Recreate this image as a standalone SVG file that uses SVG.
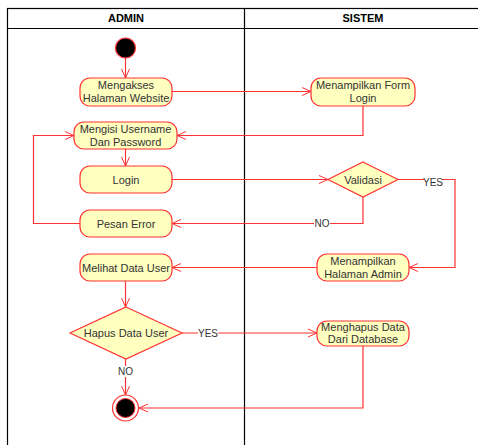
<svg xmlns="http://www.w3.org/2000/svg" width="478" height="445" viewBox="0 0 478 445">
<defs>
<marker id="arr" viewBox="0 0 10 10" refX="10" refY="5" markerWidth="10" markerHeight="10" markerUnits="userSpaceOnUse" orient="auto">
<path d="M1,1 L10,5 L1,9" fill="none" stroke="#ff3333" stroke-width="1"/>
</marker>
<style>
.lane{fill:none;stroke:#000;stroke-width:1.2}
.hdr{font-family:"Liberation Sans",Arial,sans-serif;font-size:11px;font-weight:bold;fill:#000;text-anchor:middle}
.act{fill:#ffffc0;stroke:#ff3333;stroke-width:1.2}
.t{font-family:"Liberation Sans",Arial,sans-serif;font-size:11px;fill:#333;text-anchor:middle}
.e{fill:none;stroke:#ff3333;stroke-width:1.2;marker-end:url(#arr)}
.lbl{font-family:"Liberation Sans",Arial,sans-serif;font-size:10px;fill:#333;text-anchor:middle}
.lb{fill:#fff}
</style>
</defs>
<rect width="478" height="445" fill="#fff"/>
<g id="lanes">
<rect class="lane" x="7.5" y="8.5" width="480" height="450"/>
<line class="lane" x1="7.5" y1="28.5" x2="478" y2="28.5"/>
<line class="lane" x1="244.5" y1="8.5" x2="244.5" y2="445"/>
<text class="hdr" x="126" y="22">ADMIN</text>
<text class="hdr" x="363" y="22">SISTEM</text>
</g>
<g id="connectors">
<path class="e" d="M125.5,58 V78"/>
<path class="e" d="M172,91.5 H311"/>
<path class="e" d="M363,106 V135.5 H177"/>
<path class="e" d="M125.5,149 V166"/>
<path class="e" d="M172,179.5 H328"/>
<path class="e" d="M398,179.5 H455 V267.5 H409"/>
<path class="e" d="M363,197 V223.5 H172"/>
<path class="e" d="M80,223.5 H33.5 V135.5 H74"/>
<path class="e" d="M317,267.5 H172"/>
<path class="e" d="M125.5,281 V307"/>
<path class="e" d="M182,333 H317"/>
<path class="e" d="M125.5,359 V395"/>
<path class="e" d="M363,346 V408 H139"/>
<rect class="lb" x="424" y="177" width="18" height="11"/>
<text class="lbl" x="433" y="186">YES</text>
<rect class="lb" x="314" y="218" width="16" height="11"/>
<text class="lbl" x="322" y="227">NO</text>
<rect class="lb" x="198" y="328" width="20" height="11"/>
<text class="lbl" x="208" y="337">YES</text>
<rect class="lb" x="117" y="366" width="17" height="11"/>
<text class="lbl" x="125.5" y="375">NO</text>
</g>
<g id="start"><circle cx="125.5" cy="48" r="10" fill="#000" stroke="#ff3333" stroke-width="1.2"/></g>
<g id="mengakses"><rect class="act" x="80" y="78" width="92" height="28" rx="10"/><text class="t" x="126" y="89">Mengakses</text><text class="t" x="126" y="102">Halaman Website</text></g>
<g id="formlogin"><rect class="act" x="311" y="78" width="104" height="28" rx="10"/><text class="t" x="363" y="89">Menampilkan Form</text><text class="t" x="363" y="102">Login</text></g>
<g id="mengisi"><rect class="act" x="74" y="122" width="103" height="27" rx="10"/><text class="t" x="125.5" y="133">Mengisi Username</text><text class="t" x="125.5" y="146">Dan Password</text></g>
<g id="login"><rect class="act" x="80" y="166" width="92" height="27" rx="10"/><text class="t" x="126" y="183.5">Login</text></g>
<g id="validasi"><path class="act" d="M363,162 L398,179.5 L363,197 L328,179.5 Z"/><text class="t" x="363" y="183.5">Validasi</text></g>
<g id="pesanerror"><rect class="act" x="80" y="210" width="92" height="27" rx="10"/><text class="t" x="126" y="227.5">Pesan Error</text></g>
<g id="melihat"><rect class="act" x="80" y="254" width="92" height="27" rx="10"/><text class="t" x="126" y="271.5">Melihat Data User</text></g>
<g id="halamanadmin"><rect class="act" x="317" y="254" width="92" height="27" rx="10"/><text class="t" x="363" y="264.5">Menampilkan</text><text class="t" x="363" y="277.5">Halaman Admin</text></g>
<g id="hapus"><path class="act" d="M126,307 L182,333 L126,359 L70,333 Z"/><text class="t" x="126" y="337">Hapus Data User</text></g>
<g id="menghapus"><rect class="act" x="317" y="321" width="92" height="25" rx="10"/><text class="t" x="363" y="330.5">Menghapus Data</text><text class="t" x="363" y="343">Dari Database</text></g>
<g id="end"><circle cx="125.5" cy="408" r="13" fill="#fff" stroke="#ff3333" stroke-width="1.2"/><circle cx="125.5" cy="408" r="9.5" fill="#000" stroke="#ff3333" stroke-width="1"/></g>
</svg>
